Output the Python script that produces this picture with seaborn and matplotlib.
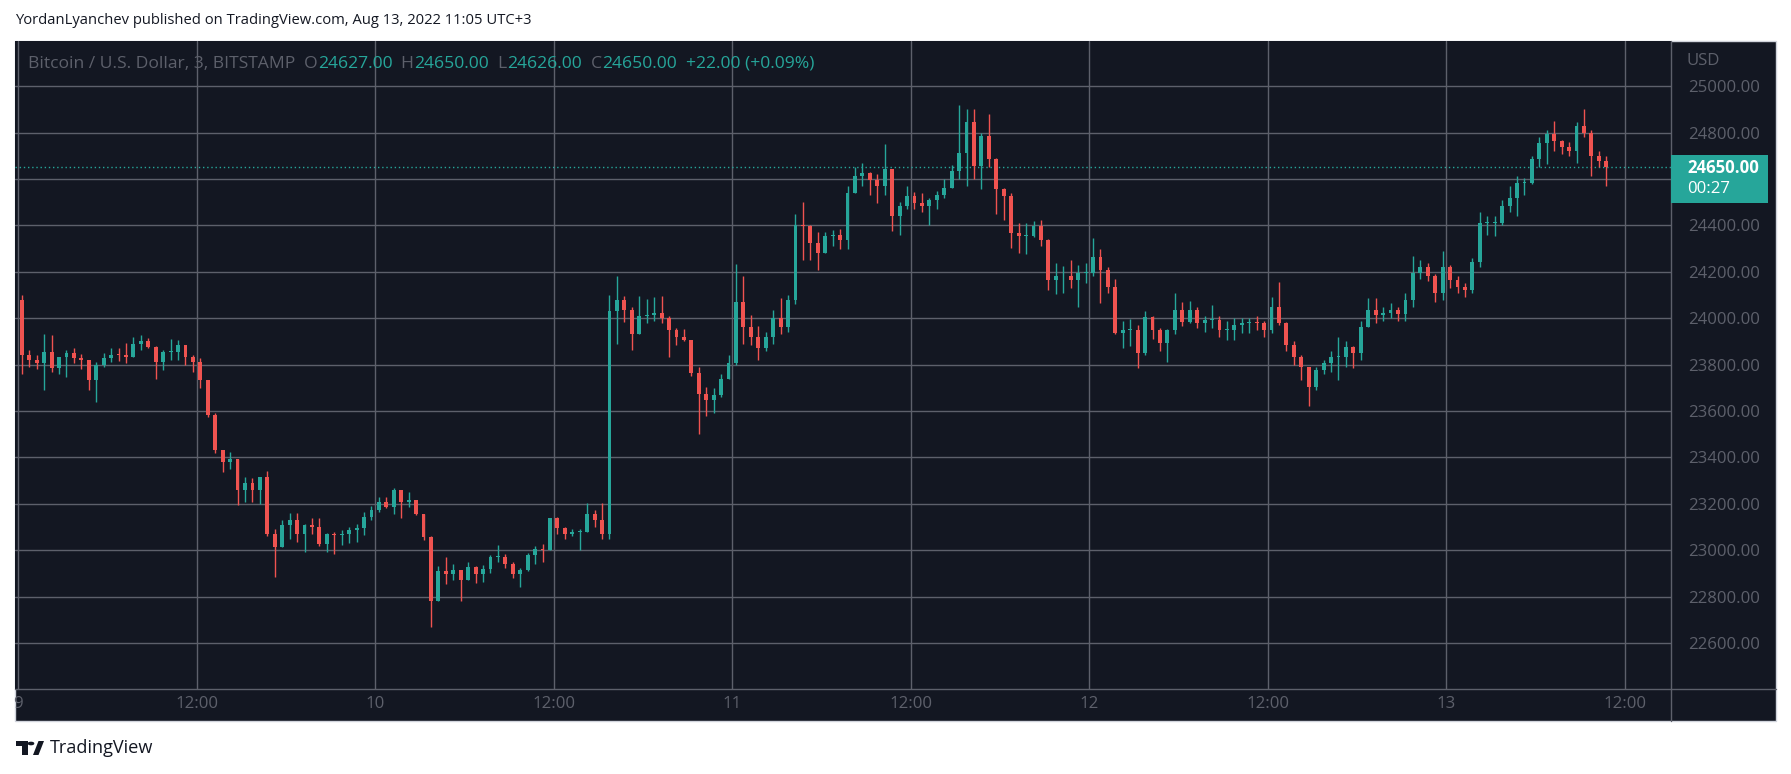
import matplotlib
matplotlib.use("Agg")
import matplotlib.pyplot as plt
from matplotlib.patches import Rectangle, Circle, Polygon
from matplotlib.lines import Line2D
import seaborn as sns
import numpy as np

# 30-minute candles, hours after Aug 9 00:00 (UTC+3)
first_open = 24080
closes = [
    23840, 23820, 23805, 23856, 23784, 23835, 23850, 23827, 23820, 23734,
    23800, 23830, 23842, 23840, 23835, 23890, 23900, 23878, 23813, 23856,
    23856, 23885, 23835, 23813, 23734, 23583, 23431, 23381, 23395, 23259,
    23288, 23259, 23317, 23072, 23014, 23108, 23130, 23072, 23110, 23101,
    23029, 23072, 23065, 23072, 23086, 23094, 23144, 23173, 23209, 23187,
    23259, 23209, 23216, 23158, 23057, 22783, 22910, 22899, 22913, 22870,
    22928, 22899, 22920, 22970, 22971, 22942, 22899, 22915, 22978, 23007,
    23000, 23137, 23094, 23072, 23079, 23079, 23158, 23130, 23072, 24030,
    24080, 24037, 23930, 24008, 24015, 24022, 24000, 23950, 23921, 23907,
    23762, 23675, 23647, 23668, 23740, 23806, 24070, 23964, 23921, 23870,
    23921, 24000, 23964, 24080, 24400, 24396, 24324, 24280, 24353, 24360,
    24338, 24540, 24613, 24627, 24598, 24570, 24642, 24440, 24483, 24526,
    24497, 24483, 24510, 24533, 24562, 24634, 24714, 24844, 24655, 24786,
    24685, 24555, 24526, 24367, 24353, 24353, 24396, 24338, 24165, 24180,
    24180, 24165, 24194, 24194, 24265, 24208, 24136, 23935, 23950, 23950,
    23849, 24007, 23950, 23892, 23950, 24036, 23985, 24036, 23978, 23992,
    23992, 23950, 23950, 23971, 23978, 23985, 23978, 23950, 24050, 23978,
    23885, 23835, 23792, 23705, 23777, 23806, 23835, 23835, 23878, 23849,
    23964, 24036, 24014, 24021, 24035, 24020, 24078, 24194, 24223, 24180,
    24107, 24223, 24165, 24136, 24121, 24244, 24410, 24410, 24410, 24483,
    24519, 24584, 24584, 24685, 24757, 24793, 24764, 24736, 24721, 24830,
    24800, 24700, 24678, 24650,
]
highs = [
    24100, 23863, 23840, 23930, 23928, 23835, 23863, 23870, 23845, 23820,
    23810, 23850, 23870, 23870, 23892, 23920, 23928, 23915, 23880, 23865,
    23910, 23905, 23885, 23840, 23830, 23735, 23590, 23431, 23425, 23395,
    23317, 23310, 23317, 23340, 23090, 23130, 23160, 23160, 23115, 23140,
    23137, 23075, 23080, 23086, 23100, 23115, 23166, 23190, 23230, 23230,
    23267, 23260, 23252, 23216, 23158, 23060, 22930, 22971, 22940, 22913,
    22950, 22930, 22935, 22980, 23021, 22985, 22950, 22925, 22990, 23020,
    23025, 23137, 23144, 23100, 23090, 23090, 23202, 23173, 23202, 24100,
    24180, 24095, 24050, 24095, 24085, 24090, 24095, 24010, 23960, 23955,
    23907, 23790, 23705, 23700, 23760, 23840, 24232, 24180, 24015, 23965,
    23940, 24037, 24087, 24100, 24450, 24500, 24400, 24370, 24370, 24380,
    24385, 24570, 24650, 24670, 24630, 24620, 24750, 24640, 24500, 24570,
    24545, 24540, 24520, 24550, 24600, 24660, 24920, 24900, 24900, 24800,
    24880, 24690, 24560, 24540, 24410, 24410, 24418, 24425, 24340, 24240,
    24225, 24250, 24230, 24240, 24344, 24300, 24220, 24170, 23990, 23995,
    23970, 24030, 24010, 23960, 23955, 24107, 24070, 24074, 24050, 24010,
    24057, 24010, 23990, 24000, 24000, 24000, 24010, 23990, 24093, 24157,
    23985, 23900, 23840, 23792, 23790, 23820, 23860, 23921, 23900, 23880,
    23990, 24086, 24086, 24050, 24064, 24050, 24110, 24270, 24250, 24240,
    24190, 24290, 24230, 24180, 24150, 24260, 24460, 24440, 24440, 24510,
    24570, 24613, 24606, 24700, 24780, 24810, 24851, 24770, 24760, 24844,
    24902, 24810, 24720, 24700,
]
lows = [
    23760, 23790, 23780, 23690, 23770, 23760, 23748, 23805, 23780, 23690,
    23640, 23790, 23810, 23815, 23805, 23835, 23865, 23870, 23737, 23775,
    23820, 23820, 23800, 23770, 23700, 23575, 23420, 23338, 23350, 23194,
    23210, 23210, 23200, 23060, 22885, 23014, 23050, 23036, 22992, 23070,
    23020, 22992, 22985, 23021, 23030, 23036, 23065, 23130, 23165, 23180,
    23158, 23137, 23187, 23150, 23045, 22671, 22780, 22855, 22870, 22783,
    22870, 22860, 22862, 22900, 22950, 22925, 22880, 22841, 22910, 22940,
    22950, 23000, 23070, 23050, 23060, 23000, 23079, 23100, 23050, 23050,
    23890, 23985, 23863, 23930, 23980, 23990, 23980, 23835, 23885, 23900,
    23750, 23500, 23580, 23590, 23660, 23740, 23800, 23890, 23885, 23820,
    23860, 23890, 23930, 23940, 24060, 24250, 24250, 24208, 24280, 24310,
    24300, 24300, 24540, 24570, 24530, 24497, 24530, 24375, 24360, 24470,
    24470, 24460, 24400, 24470, 24520, 24560, 24600, 24570, 24600, 24555,
    24650, 24450, 24425, 24302, 24280, 24275, 24350, 24310, 24120, 24105,
    24110, 24130, 24050, 24150, 24180, 24064, 24110, 23930, 23870, 23880,
    23784, 23840, 23910, 23860, 23813, 23930, 23965, 23980, 23960, 23940,
    23960, 23920, 23905, 23905, 23935, 23935, 23950, 23920, 23935, 23970,
    23860, 23800, 23734, 23620, 23690, 23760, 23770, 23734, 23790, 23785,
    23820, 23964, 23980, 23990, 24000, 23990, 23990, 24050, 24170, 24160,
    24071, 24080, 24130, 24110, 24093, 24110, 24220, 24360, 24353, 24400,
    24460, 24440, 24530, 24580, 24650, 24663, 24720, 24710, 24700, 24670,
    24780, 24613, 24650, 24570,
]

price_ticks = [22600, 22800, 23000, 23200, 23400, 23600, 23800, 24000, 24200, 24400, 24600, 24800, 25000]
time_ticks = [0, 12, 24, 36, 48, 60, 72, 84, 96, 108]
time_labels = ["9", "12:00", "10", "12:00", "11", "12:00", "12", "12:00", "13", "12:00"]
last_price = 24650
countdown = "00:27"
symbol_text = "Bitcoin / U.S. Dollar, 3, BITSTAMP"
ohlc_keys = ["O", "H", "L", "C"]
ohlc_vals = ["24627.00", "24650.00", "24626.00", "24650.00"]
change_text = "+22.00 (+0.09%)"
title_text = "YordanLyanchev published on TradingView.com, Aug 13, 2022 11:05 UTC+3"

BG = "#131722"
GRID = "#5d606b"
TXT = "#5d606b"
UP = "#26a69a"
DOWN = "#ef5350"
INK = "#131722"

sns.set_style("dark", {"axes.facecolor": BG, "grid.color": GRID, "figure.facecolor": "white"})
plt.rcParams["font.family"] = ["Open Sans", "DejaVu Sans"]

W, H = 1791, 774
fig = plt.figure(figsize=(W / 100, H / 100), dpi=100)
renderer = fig.canvas.get_renderer()


def fx(x):
    return x / W


def fy(y):
    return 1 - y / H


def fit_size(s, width_px, weight="normal"):
    # font size that makes s about width_px wide
    t = fig.text(0, 0, s, fontsize=10, weight=weight)
    w = t.get_window_extent(renderer).width
    t.remove()
    return 10 * width_px / w


# dark chart panel
fig.add_artist(Rectangle((fx(15), fy(721)), (1776 - 15) / W, (721 - 41) / H,
                         transform=fig.transFigure, facecolor=BG, edgecolor="#d1d4dc",
                         lw=1, zorder=-1))

ax = fig.add_axes([fx(15), fy(689), (1671 - 15) / W, (689 - 41) / H])
ax.set_facecolor(BG)

# candles
o = np.array([first_open] + closes[:-1], dtype=float)
c = np.array(closes, dtype=float)
hi = np.maximum(np.array(highs, dtype=float), np.maximum(o, c))
lo = np.minimum(np.array(lows, dtype=float), np.minimum(o, c))
t = np.arange(len(c)) * 0.5 + 0.25
col = np.where(c >= o, UP, DOWN)
ax.vlines(t, lo, hi, colors=col, lw=1, zorder=3)
ax.bar(t, np.maximum(np.abs(c - o), 4), bottom=np.minimum(o, c), width=0.26,
       color=col, linewidth=0, zorder=4)

ax.axhline(last_price, color=UP, lw=1, ls=(0, (1, 2)), zorder=2)

ax.set_xlim(-0.21, 111.1)
ax.set_ylim(22402, 25195)

lbl = fit_size("25000.00", 72)
ax.set_xticks(time_ticks)
ax.set_xticklabels(time_labels)
ax.set_yticks(price_ticks)
# the 24600 label sits under the last-price tag, as in the original
ax.set_yticklabels(["" if p == 24600 else f"{p:.2f}" for p in price_ticks])
ax.yaxis.tick_right()
ax.tick_params(axis="x", length=0, pad=5, labelsize=lbl, labelcolor=TXT)
ax.tick_params(axis="y", length=0, pad=12, labelsize=lbl, labelcolor=TXT)
ax.grid(True, color=GRID, lw=1)
ax.set_axisbelow(True)
for s in ax.spines.values():
    s.set_visible(False)

# axis separators
fig.add_artist(Line2D([fx(1671), fx(1671)], [fy(41), fy(721)], color=GRID, lw=1))
fig.add_artist(Line2D([fx(15), fx(1776)], [fy(689), fy(689)], color=GRID, lw=1))

fig.text(fx(1687), fy(61), "USD", color=TXT, fontsize=lbl, va="center")

# last price tag
fig.add_artist(Rectangle((fx(1671), fy(203)), (1768 - 1671) / W, (203 - 155) / H,
                         transform=fig.transFigure, facecolor=UP, edgecolor="none", zorder=5))
fig.text(fx(1687), fy(168), f"{last_price:.2f}", color="white", fontsize=lbl,
         weight="bold", va="center", zorder=6)
fig.text(fx(1687), fy(189), countdown, color="white", fontsize=lbl, va="center", zorder=6)

# legend line
pieces = [(symbol_text, TXT)]
for k, v in zip(ohlc_keys, ohlc_vals):
    pieces += [("  " + k, TXT), (v, UP)]
pieces += [("  " + change_text, UP)]
leg = fit_size("".join(p for p, _ in pieces), 785)
x = 28
for s, cc in pieces:
    tt = fig.text(fx(x), fy(64), s, color=cc, fontsize=leg, va="center", ha="left")
    x += tt.get_window_extent(renderer).width

# header and footer
fig.text(fx(15), fy(20), title_text, color=INK, fontsize=fit_size(title_text, 514), va="center")

logo = [
    Rectangle((fx(16), fy(746)), 12 / W, 5 / H),
    Rectangle((fx(22), fy(755)), 6 / W, 14 / H),
    Polygon([(fx(33), fy(755)), (fx(38.5), fy(755)), (fx(44), fy(741)), (fx(38.5), fy(741))]),
]
for p in logo:
    p.set_transform(fig.transFigure)
    p.set_facecolor(INK)
    p.set_edgecolor("none")
    fig.add_artist(p)
fig.add_artist(Circle((fx(31), fy(743.5)), 2.6 / W, transform=fig.transFigure, color=INK))
fig.text(fx(50), fy(748), "TradingView", color=INK, fontsize=fit_size("TradingView", 104), va="center")

fig.savefig("out.png", dpi=100, facecolor="white")
